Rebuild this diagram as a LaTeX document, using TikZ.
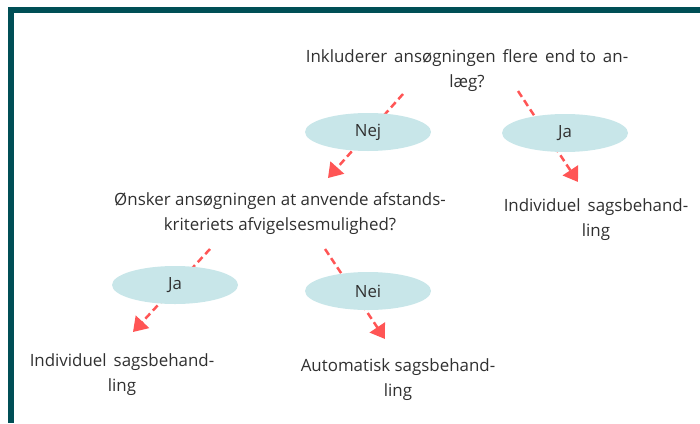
\documentclass[tikz,border=0pt]{standalone}
\usepackage{fontspec}
\setmainfont{Open Sans}
\usetikzlibrary{arrows.meta,shapes.geometric,backgrounds}
\definecolor{frame}{HTML}{004F56}
\definecolor{arr}{HTML}{FF5555}
\definecolor{ell}{HTML}{C8E6E9}
\definecolor{txt}{HTML}{303030}
\newcommand{\wsp}{\hspace{7pt}}
\tikzset{
  lbl/.style={font=\fontsize{16.9}{25}\selectfont, text=txt, align=center, inner sep=0pt},
  ans/.style={ellipse, fill=ell, minimum width=126pt, minimum height=38pt, inner sep=0pt, font=\fontsize{16.8}{19}\selectfont, text=txt},
  flow/.style={arr, line width=2.5pt, dash pattern=on 7pt off 4pt, -{Triangle[length=14pt,width=18pt]}}
}
\begin{document}
\begin{tikzpicture}[x=1pt,y=-1pt]
\useasboundingbox (0,0) rectangle (700,423);
\fill[frame] (8,7) rectangle (700,12.5);
\fill[frame] (8,7) rectangle (13.5,423);
% questions
\node[lbl] (q1) at (467,71) {Inkluderer\wsp ansøgningen\wsp flere\wsp end to\wsp an-\\læg?};
\node[lbl] (q2) at (280,214) {Ønsker ansøgningen at anvende afstands-\\kriteriets afvigelsesmulighed?};
% outcomes
\node[lbl] (r1) at (596,220) {Individuel\wsp sagsbehand-\\ling};
\node[lbl] (r2) at (122,375) {Individuel\wsp sagsbehand-\\ling};
\node[lbl] (r3) at (398,380) {Automatisk sagsbehand-\\ling};
% answer ellipses
\node[ans] (nej) at (368,132) {Nej};
\node[ans] (ja1) at (565,133) {Ja};
\node[ans] (ja2) at (175,285) {Ja};
\node[ans] (nei) at (368,291) {Nei};
% arrow ends
\coordinate (s1) at (403,94);  \coordinate (e1) at (328,178);
\coordinate (s2) at (518,91);  \coordinate (e2) at (578,182);
\coordinate (s3) at (210,249); \coordinate (e3) at (133,332);
\coordinate (s4) at (325,249); \coordinate (e4) at (385,339);
\begin{scope}[on background layer]
\draw[flow] (s1) -- (e1);
\draw[flow] (s2) -- (e2);
\draw[flow] (s3) -- (e3);
\draw[flow] (s4) -- (e4);
\end{scope}
\end{tikzpicture}
\end{document}
